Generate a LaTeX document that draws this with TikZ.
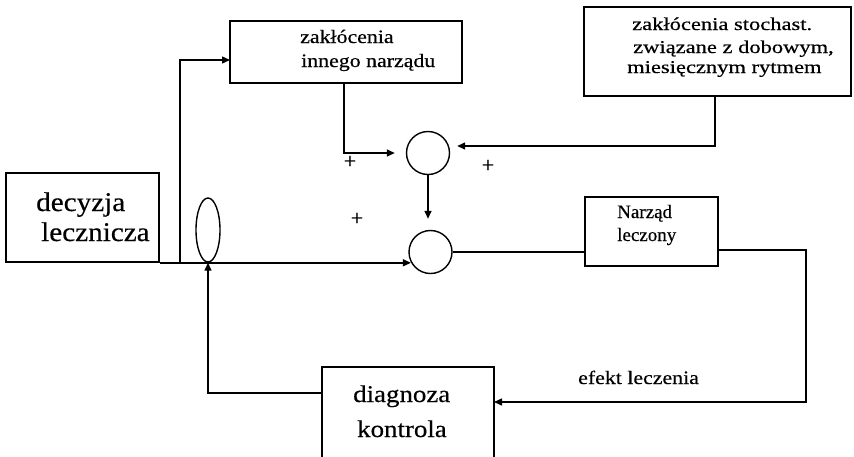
\documentclass[tikz,border=0pt]{standalone}
\usepackage{fontspec}
\setmainfont[FakeBold=0.4]{Liberation Serif}
\newfontfamily\fDec[FakeStretch=1.08,FakeBold=0.4]{Liberation Serif}
\newfontfamily\fSmall[FakeStretch=1.15,FakeBold=0.4]{Liberation Serif}
\newfontfamily\fSto[FakeStretch=1.25,FakeBold=0.4]{Liberation Serif}
\newfontfamily\fDia[FakeStretch=1.12,FakeBold=0.4]{Liberation Serif}
\usetikzlibrary{arrows.meta,shapes.geometric}
\tikzset{
  box/.style={draw, line width=1.6pt, rectangle, inner sep=0pt},
  sumnode/.style={draw, line width=1.4pt, circle, minimum size=43pt, inner sep=0pt},
  conn/.style={line width=1.4pt, -{Triangle[length=8pt,width=7pt]}},
  plain/.style={line width=1.4pt},
  txt/.style={anchor=base west, inner sep=0pt},
  plus/.style={inner sep=0pt, font=\fontsize{22}{24}\selectfont},
}
\begin{document}
\begin{tikzpicture}[x=1pt,y=-1pt]
\clip (0,0) rectangle (854,456);
\fill[white] (0,0) rectangle (854,456);
% boxes
\node[box, minimum width=153pt, minimum height=89pt] (dec) at (82.5,217.5) {};
\node[box, minimum width=232pt, minimum height=62pt] (inn) at (346,52) {};
\node[box, minimum width=267pt, minimum height=89pt] (sto) at (717.5,51.5) {};
\node[box, minimum width=133pt, minimum height=69pt] (nar) at (651.5,231.5) {};
\node[box, minimum width=172pt, minimum height=96pt] (dia) at (408,415) {};
% sums and ellipse
\node[sumnode] (c1) at (428,153) {};
\node[sumnode] (c2) at (430.5,252) {};
\node[draw, line width=1.4pt, ellipse, minimum width=24pt, minimum height=64pt, inner sep=0pt] (ell) at (208,230) {};
% texts
\node[txt] (t1) at (36,211) {\fDec\fontsize{27}{30}\selectfont decyzja};
\node[txt] (t2) at (41,241) {\fDec\fontsize{27}{30}\selectfont lecznicza};
\node[txt] (t3) at (300,43) {\fSmall\fontsize{19}{22}\selectfont zakłócenia};
\node[txt] (t4) at (301,67) {\fSmall\fontsize{19}{22}\selectfont innego narządu};
\node[txt] (t5) at (632,30) {\fSto\fontsize{18}{21}\selectfont zakłócenia stochast.};
\node[txt] (t6) at (633,53) {\fSto\fontsize{18}{21}\selectfont związane z dobowym,};
\node[txt] (t7) at (627,73) {\fSto\fontsize{18}{21}\selectfont miesięcznym rytmem};
\node[txt] (t8) at (617,218) {\fontsize{19}{23}\selectfont Narząd};
\node[txt] (t9) at (617,241) {\fontsize{19}{23}\selectfont leczony};
\node[txt] (t10) at (353,402) {\fDia\fontsize{24}{27}\selectfont diagnoza};
\node[txt] (t11) at (357,437) {\fDia\fontsize{24}{27}\selectfont kontrola};
\node[txt] (t12) at (578,384) {\fSmall\fontsize{19}{22}\selectfont efekt leczenia};
\node[plus] (p1) at (350,162) {+};
\node[plus] (p2) at (488,166) {+};
\node[plus] (p3) at (357,219) {+};
% coordinates
\coordinate (br) at (180,262);
\coordinate (innin) at (230,60);
\coordinate (nout) at (718,250);
\coordinate (rc) at (806,250);
\coordinate (fbin) at (494,402);
\coordinate (fbout) at (322,393);
\coordinate (innout) at (344,83);
\coordinate (stoout) at (715,96);
% connectors
\draw[conn] (dec.south east) -- (c2.208 |- dec.south east);
\draw[conn] (br) |- (innin);
\draw[conn] (innout) |- ([xshift=-11pt]c1.west);
\draw[conn] (stoout) |- ([xshift=7pt]c1.east |- 0,146);
\draw[conn] (c1.south) -- ([yshift=11pt]c1.south |- c2.north);
\draw[plain] (c2.east) -- (c2.east -| nar.west);
\draw[conn] (nout) -- (rc) |- (fbin);
\draw[conn] (fbout) -| (ell.south);
\end{tikzpicture}
\end{document}
